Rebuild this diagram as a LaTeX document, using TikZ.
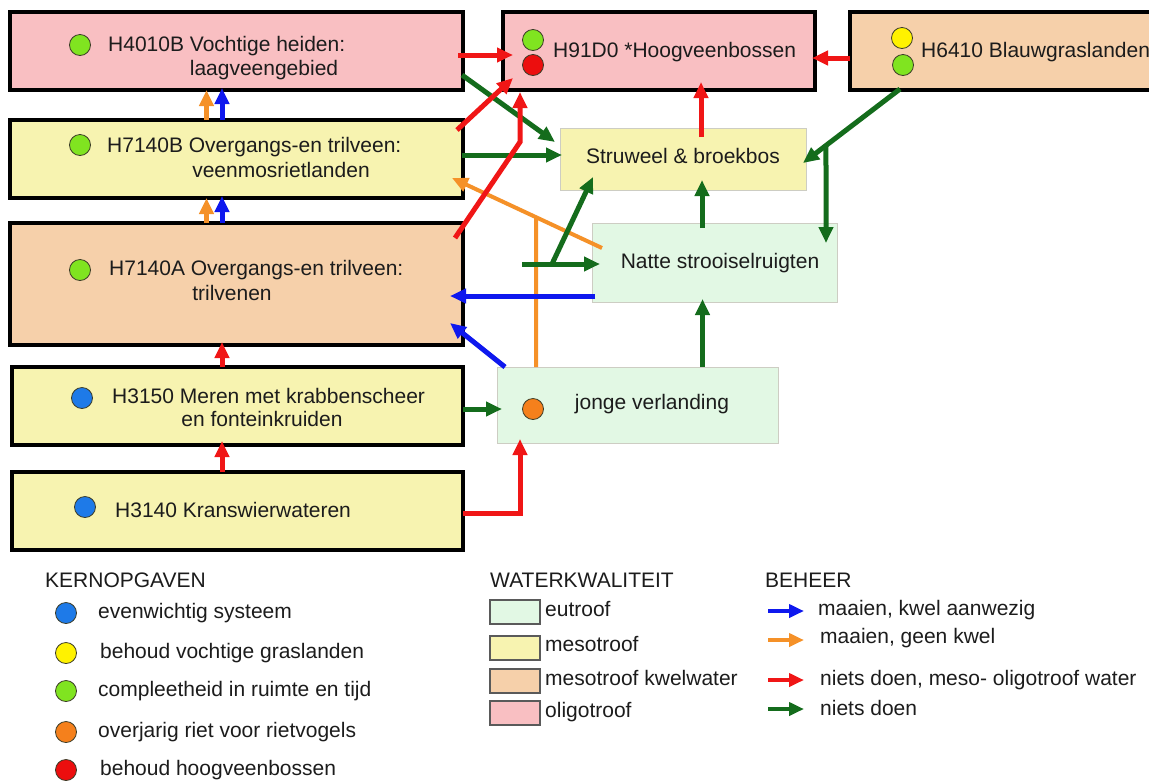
\documentclass[tikz,border=0pt]{standalone}
\usepackage{fontspec}
\setmainfont{Liberation Sans}
\usetikzlibrary{arrows.meta,calc}
\definecolor{cred}{RGB}{240,22,22}
\definecolor{cgreen}{RGB}{20,108,28}
\definecolor{cblue}{RGB}{14,24,238}
\definecolor{corange}{RGB}{245,145,40}
\definecolor{fpink}{RGB}{249,191,194}
\definecolor{fyellow}{RGB}{247,243,176}
\definecolor{fsalmon}{RGB}{246,208,170}
\definecolor{fgreen}{RGB}{226,248,228}
\definecolor{softedge}{RGB}{205,205,195}
\definecolor{legedge}{RGB}{90,90,90}
\definecolor{ink}{RGB}{28,28,28}
\definecolor{dgreen}{RGB}{128,228,32}
\definecolor{dred}{RGB}{236,14,14}
\definecolor{dyellow}{RGB}{255,242,0}
\definecolor{dblue}{RGB}{30,122,232}
\definecolor{dorange}{RGB}{245,128,28}
\definecolor{dotedge}{RGB}{60,60,40}
\begin{document}
\begin{tikzpicture}[x=1pt,y=-1pt,
  bigbox/.style={draw=black, line width=4pt, minimum width=453pt, minimum height=78pt, inner sep=0pt, outer sep=0pt},
  softbox/.style={draw=softedge, line width=1pt, inner sep=0pt, outer sep=0pt},
  legbox/.style={draw=legedge, line width=1.2pt, minimum width=50pt, minimum height=24pt, inner sep=0pt},
  dot/.style={circle, draw=dotedge, line width=0.8pt, minimum size=21pt, inner sep=0pt},
  txt/.style={font=\fontsize{21}{24}\selectfont, text=ink, inner sep=0pt, text height=15pt, text depth=4.5pt},
  arr/.style={line width=5pt, -{Triangle[length=16pt,width=14pt]}},
  legarr/.style={line width=4.5pt, -{Triangle[length=15pt,width=13pt]}}
]
\useasboundingbox (0,0) rectangle (1149,780);
\clip (0,0) rectangle (1149,780);
\fill[white] (0,0) rectangle (1149,780);

% ---------- boxes ----------
\node[bigbox, fill=fpink] (h4010) at (236.5,51) {};
\node[bigbox, fill=fyellow] (h7140b) at (236.5,159) {};
\node[bigbox, fill=fsalmon, minimum height=122pt] (h7140a) at (236.5,284) {};
\node[bigbox, fill=fyellow, minimum width=451pt] (h3150) at (237.5,406) {};
\node[bigbox, fill=fyellow, minimum width=451pt] (h3140) at (237.5,511) {};
\node[bigbox, fill=fpink, minimum width=312pt] (h91d0) at (659,51) {};
\node[bigbox, fill=fsalmon, minimum width=315pt] (h6410) at (1007.5,51) {};
\node[softbox, fill=fyellow, minimum width=246pt, minimum height=62pt] (struweel) at (683,159) {};
\node[softbox, fill=fgreen, minimum width=245pt, minimum height=79pt] (natte) at (714.5,262.5) {};
\node[softbox, fill=fgreen, minimum width=281pt, minimum height=76pt] (jonge) at (637.5,405) {};

% ---------- helper coordinates ----------
\coordinate (oS) at ($(natte.north west)+(10,25)$);
\coordinate (oE) at ($(h7140b.east)+(-11,19)$);
\coordinate (oJ) at ($(oS)!0.44!(oE)$);
\coordinate (gS) at ($(natte.west)+(-70,1.5)$);
\coordinate (gB) at ($(gS)+(30,0)$);
\coordinate (hS) at ($(h6410.south west)+(50,-1)$);
\coordinate (hE) at ($(struweel.east)+(-3,4)$);
\coordinate (hJ) at ($(hS)!0.763!(hE)$);

% ---------- orange ----------
\draw[arr, corange, line width=4pt] (oS) -- (oE);
\draw[line width=4pt, corange] ($(jonge.north west)+(39,0)$) -- (oJ);
\draw[arr, corange] ($(h7140b.north)+(-30,0)$) -- ($(h4010.south)+(-30,0)$);
\draw[arr, corange] ($(h7140a.north)+(-30,0)$) -- ($(h7140b.south)+(-30,0)$);

% ---------- green ----------
\draw[arr, cgreen] ($(h4010.east)+(-1,24)$) -- ($(struweel.west)+(-5,-17)$);
\draw[arr, cgreen] ($(h7140b.east)+(-1,-4)$) -- ($(struweel.west)+(2,-4)$);
\draw[arr, cgreen] (gS) -- ($(natte.west)+(8,1.5)$);
\draw[arr, cgreen] (gB) -- ($(struweel.south west)+(33,-13)$);
\draw[arr, cgreen] ($(natte.north)+(-12.5,5)$) -- ($(struweel.south)+(19,-10)$);
\draw[arr, cgreen] (hS) -- (hE);
\draw[arr, cgreen] (hJ) -- ($(natte.north east)+(-11,20)$);
\draw[arr, cgreen] ($(jonge.north)+(65,0)$) -- ($(natte.south)+(-12,-3)$);
\draw[arr, cgreen] ($(h3150.east)+(0,3)$) -- ($(jonge.west)+(5,4)$);

% ---------- blue ----------
\draw[arr, cblue] ($(natte.west)+(3,33.5)$) -- ($(h7140a.east)+(-13,12)$);
\draw[arr, cblue] ($(jonge.north west)+(8,0)$) -- ($(h7140a.east)+(-13,39)$);
\draw[arr, cblue] ($(h7140b.north)+(-14.5,0)$) -- ($(h4010.south)+(-14.5,-2)$);
\draw[arr, cblue] ($(h7140a.north)+(-14.5,0)$) -- ($(h7140b.south)+(-14.5,-2)$);

% ---------- red ----------
\draw[arr, cred] ($(h4010.east)+(-5,4)$) -- ($(h91d0.west)+(10,4)$);
\draw[arr, cred] ($(h6410.west)+(0,7)$) -- ($(h91d0.east)+(-3,7)$);
\draw[arr, cred] ($(struweel.north)+(18,9)$) -- ($(h91d0.south)+(42,-8)$);
\draw[arr, cred] ($(h7140b.north east)+(-6,10)$) -- ($(h91d0.south west)+(10,-12)$);
\draw[arr, cred] ($(h7140a.north east)+(-8,15)$) -- ($(h91d0.south west)+(17,52)$) -- ($(h91d0.south west)+(17,2)$);
\draw[arr, cred] ($(h3150.north)+(-15.5,0)$) -- ($(h7140a.south)+(-14.5,-3)$);
\draw[arr, cred] ($(h3140.north)+(-15.5,0)$) -- ($(h3150.south)+(-15.5,-4)$);
\draw[arr, cred] ($(h3140.east)+(0,2)$) -- ($(jonge.south west)+(23,70)$) -- ($(jonge.south west)+(23,-4)$);

% ---------- dots ----------
\node[dot, fill=dgreen] (d4010) at (80,45) {};
\node[dot, fill=dgreen] (d7140b) at (80,145) {};
\node[dot, fill=dgreen] (d7140a) at (80,270) {};
\node[dot, fill=dblue] (d3150) at (82,398) {};
\node[dot, fill=dblue] (d3140) at (85,507) {};
\node[dot, fill=dgreen] (d91a) at (533,40) {};
\node[dot, fill=dred] (d91b) at (533,65) {};
\node[dot, fill=dyellow] (d64a) at (902,38) {};
\node[dot, fill=dgreen] (d64b) at (903,65) {};
\node[dot, fill=dorange] (djonge) at (533,409) {};

% ---------- texts ----------
\node[txt, anchor=west] (t4010a) at (108,46) {H4010B Vochtige heiden:};
\node[txt] (t4010b) at (264,70) {laagveengebied};
\node[txt, anchor=west] (t7140ba) at (107,147) {H7140B Overgangs-en trilveen:};
\node[txt] (t7140bb) at (281,172) {veenmosrietlanden};
\node[txt, anchor=west] (t7140aa) at (109,270) {H7140A Overgangs-en trilveen:};
\node[txt] (t7140ab) at (232,295) {trilvenen};
\node[txt, anchor=west] (t3150a) at (112,398) {H3150 Meren met krabbenscheer};
\node[txt] (t3150b) at (262,421) {en fonteinkruiden};
\node[txt, anchor=west] (t3140) at (115,512) {H3140 Kranswierwateren};
\node[txt, anchor=west] (t91d0) at (553,52) {H91D0 *Hoogveenbossen};
\node[txt, anchor=west] (t6410) at (921,52) {H6410 Blauwgraslanden};
\node[txt] (tstruweel) at (683,158) {Struweel \& broekbos};
\node[txt] (tnatte) at (720,263) {Natte strooiselruigten};
\node[txt] (tjonge) at (652,404) {jonge verlanding};

% ---------- legend: kernopgaven ----------
\node[txt, anchor=west] (lk) at (45,582) {KERNOPGAVEN};
\node[dot, fill=dblue] (lk1) at (66,613) {};
\node[dot, fill=dyellow] (lk2) at (66,653) {};
\node[dot, fill=dgreen] (lk3) at (66,691) {};
\node[dot, fill=dorange] (lk4) at (66,732) {};
\node[dot, fill=dred] (lk5) at (66,770) {};
\node[txt, anchor=west] (lkt1) at (98,613) {evenwichtig systeem};
\node[txt, anchor=west] (lkt2) at (100,653) {behoud vochtige graslanden};
\node[txt, anchor=west] (lkt3) at (98,691) {compleetheid in ruimte en tijd};
\node[txt, anchor=west] (lkt4) at (98,732) {overjarig riet voor rietvogels};
\node[txt, anchor=west] (lkt5) at (100,770) {behoud hoogveenbossen};

% ---------- legend: waterkwaliteit ----------
\node[txt, anchor=west] (lw) at (490,582) {WATERKWALITEIT};
\node[legbox, fill=fgreen] (lw1) at (515,612) {};
\node[legbox, fill=fyellow] (lw2) at (515,648) {};
\node[legbox, fill=fsalmon] (lw3) at (515,681) {};
\node[legbox, fill=fpink] (lw4) at (515,713) {};
\node[txt, anchor=west] (lwt1) at (545,611) {eutroof};
\node[txt, anchor=west] (lwt2) at (545,646) {mesotroof};
\node[txt, anchor=west] (lwt3) at (545,680) {mesotroof kwelwater};
\node[txt, anchor=west] (lwt4) at (545,712) {oligotroof};

% ---------- legend: beheer ----------
\node[txt, anchor=west] (lb) at (765,582) {BEHEER};
\coordinate (lb1s) at (768,611);
\coordinate (lb2s) at (768,640);
\coordinate (lb3s) at (768,680);
\coordinate (lb4s) at (768,709);
\node[txt, anchor=west] (lbt1) at (818,610) {maaien, kwel aanwezig};
\node[txt, anchor=west] (lbt2) at (820,638) {maaien, geen kwel};
\node[txt, anchor=west] (lbt3) at (820,680) {niets doen, meso- oligotroof water};
\node[txt, anchor=west] (lbt4) at (820,710) {niets doen};
\draw[legarr, cblue] (lb1s) -- ($(lbt1.west |- lb1s)+(-14,0)$);
\draw[legarr, corange] (lb2s) -- ($(lbt2.west |- lb2s)+(-16,0)$);
\draw[legarr, cred] (lb3s) -- ($(lbt3.west |- lb3s)+(-16,0)$);
\draw[legarr, cgreen] (lb4s) -- ($(lbt4.west |- lb4s)+(-16,0)$);
\end{tikzpicture}
\end{document}
